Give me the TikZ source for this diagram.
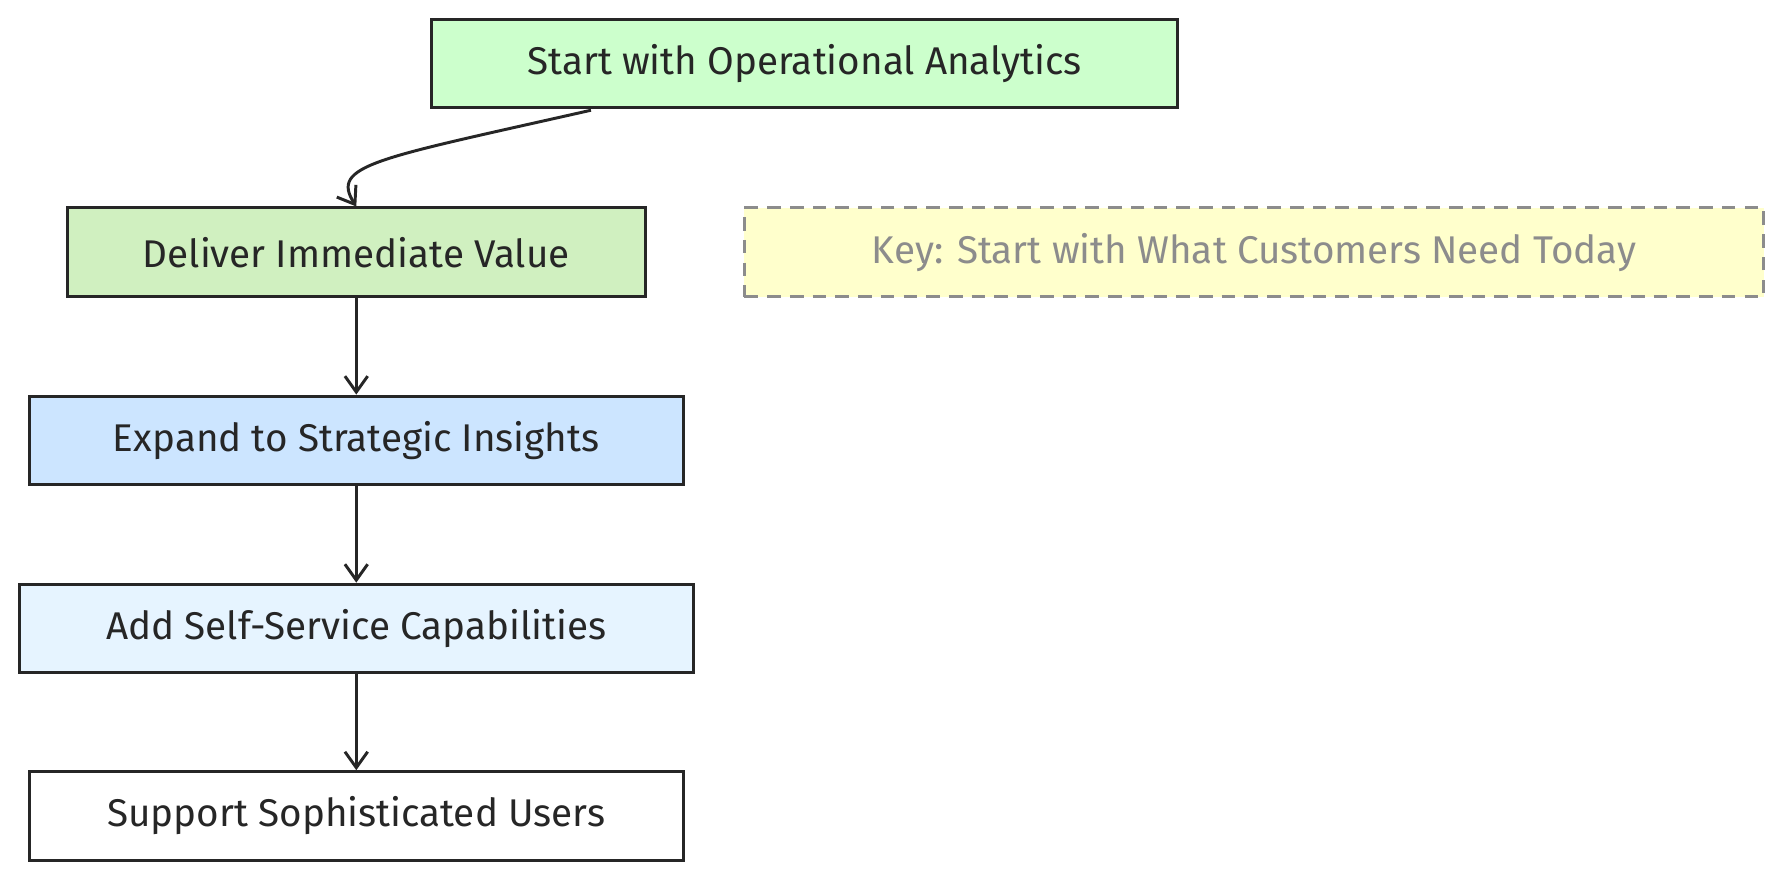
\documentclass[tikz,border=0pt]{standalone}
\usepackage{fontspec}
\setmainfont{Fira Sans}
\usetikzlibrary{arrows.meta}
\begin{document}
\begin{tikzpicture}[x=0.5pt,y=-0.5pt,
  box/.style={draw=black!85,line width=1.3pt,minimum height=39pt,font=\fontsize{17}{20}\selectfont,text=black!85},
  arr/.style={-{Straight Barb[length=7pt,width=10pt]},line width=1.3pt,black!85}]
\useasboundingbox (0,0) rectangle (1568,774);
\node[box,fill={rgb,255:red,204;green,255;blue,204},minimum width=328pt] (s) at (708,56) {Start with Operational Analytics};
\node[box,fill={rgb,255:red,208;green,240;blue,192},minimum width=254.5pt] (d) at (313.5,222) {Deliver Immediate Value};
\node[box,draw=black!45,dashed,dash pattern=on 6pt off 4pt,fill={rgb,255:red,255;green,255;blue,204},minimum width=448.5pt,text=black!45] (k) at (1103.5,222) {Key: Start with What Customers Need Today};
\node[box,fill={rgb,255:red,204;green,229;blue,255},minimum width=287.5pt] (e) at (313.5,387.5) {Expand to Strategic Insights};
\node[box,fill={rgb,255:red,230;green,244;blue,255},minimum width=296.5pt] (a) at (313.5,553) {Add Self-Service Capabilities};
\node[box,fill=white,minimum width=287.5pt] (u) at (313.5,718) {Support Sophisticated Users};
\coordinate (s1) at (520,97);
\draw[arr] (s1) .. controls (330,140) and (290,145) .. (d.north);
\draw[arr] (d) -- (e);
\draw[arr] (e) -- (a);
\draw[arr] (a) -- (u);
\end{tikzpicture}
\end{document}
